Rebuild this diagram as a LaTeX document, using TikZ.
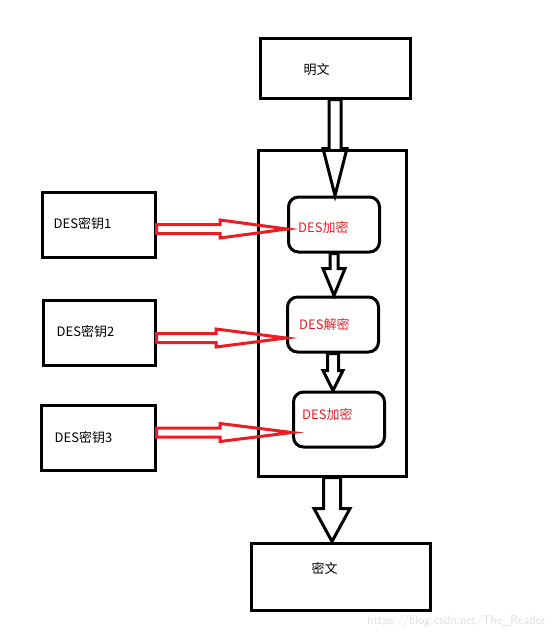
\documentclass[tikz,border=0pt]{standalone}
\usepackage{fontspec}
\setmainfont{Noto Sans CJK SC}
\usepackage{tikz}
\usepackage{xcolor}
\usetikzlibrary{calc,positioning}

\definecolor{penred}{RGB}{237,28,36}
\definecolor{markgray}{RGB}{222,222,222}

\tikzset{
    box/.style={draw, line width=3pt, inner sep=0pt},
    stage/.style={box, rounded corners=10pt, minimum width=91pt, minimum height=55pt},
    lbl/.style={font=\fontsize{13}{15}\selectfont, inner sep=0pt},
    redlbl/.style={lbl, text=penred},
    blk/.style={draw, line width=3pt, line join=miter},
    redblk/.style={draw=penred, line width=3pt, line join=miter},
}

% hollow arrow down: from, to, half shaft, half head, head length
\newcommand\hollowdown[5]{%
    \draw[blk] let \p1=(#1), \p2=(#2) in
        (\x1-#3,\y1) -- (\x1-#3,\y2+#5) -- (\x1-#4,\y2+#5) -- (\x1,\y2)
        -- (\x1+#4,\y2+#5) -- (\x1+#3,\y2+#5) -- (\x1+#3,\y1) -- cycle;}
% hollow arrow right, same arguments
\newcommand\hollowright[5]{%
    \draw[redblk] let \p1=(#1), \p2=(#2) in
        (\x1,\y1+#3) -- (\x2-#5,\y1+#3) -- (\x2-#5,\y1+#4) -- (\x2,\y1)
        -- (\x2-#5,\y1-#4) -- (\x2-#5,\y1-#3) -- (\x1,\y1-#3) -- cycle;}

\begin{document}
\begin{tikzpicture}[x=1pt, y=-1pt]
    \useasboundingbox (0,0) rectangle (554,638);

    \node[box, minimum width=150pt, minimum height=60pt] (plain) at (335,68) {};
    \node[lbl, right=45pt of plain.west, yshift=-2pt] (plaintxt) {明文};

    \node[box, minimum width=148pt, minimum height=326pt] (core) at (332,313) {};

    \node[stage] (enc1) at (334,224.5) {};
    \node[redlbl, right=11pt of enc1.west, yshift=-3pt] (enc1txt) {DES加密};
    \node[stage] (dec) at (333,324.5) {};
    \node[redlbl, right=13pt of dec.west] (dectxt) {DES解密};
    \node[stage] (enc2) at (339,419.5) {};
    \node[redlbl, right=10pt of enc2.west, yshift=5pt] (enc2txt) {DES加密};

    \node[box, minimum width=179pt, minimum height=67pt] (cipher) at (340.5,576.5) {};
    \node[lbl, right=62pt of cipher.west, yshift=8pt] (ciphertxt) {密文};

    \node[box, minimum width=113pt, minimum height=65pt] (key1) at (98.5,224.5) {};
    \node[lbl, right=13pt of key1.west, yshift=1pt] (key1txt) {DES密钥1};
    \node[box, minimum width=112pt, minimum height=65pt] (key2) at (99,332.5) {};
    \node[lbl, right=15pt of key2.west, yshift=1pt] (key2txt) {DES密钥2};
    \node[box, minimum width=114pt, minimum height=65pt] (key3) at (98,437.5) {};
    \node[lbl, right=15pt of key3.west] (key3txt) {DES密钥3};

    \hollowdown{plain.south}{enc1.north}{6pt}{12pt}{47pt}
    \hollowdown{enc1.south}{dec.north}{4pt}{11pt}{27pt}
    \hollowdown{dec.south}{enc2.north}{5.5pt}{10pt}{20pt}
    \hollowdown{core.south}{cipher.north}{8.5pt}{18pt}{33pt}

    \hollowright{$(key1.east)+(0,4.5)$}{enc1.west}{4.5pt}{9pt}{67pt}
    \hollowright{$(key2.east)+(0,5.5)$}{dec.west}{4.5pt}{9pt}{70pt}
    \hollowright{$(key3.east)+(0,-5)$}{enc2.west}{4.5pt}{9pt}{72pt}

    \node[font=\fontsize{12.5}{14}\selectfont\sffamily, text=markgray, anchor=east] (mark) at (549,621) {https://blog.csdn.net/The\_Reader};
\end{tikzpicture}
\end{document}
